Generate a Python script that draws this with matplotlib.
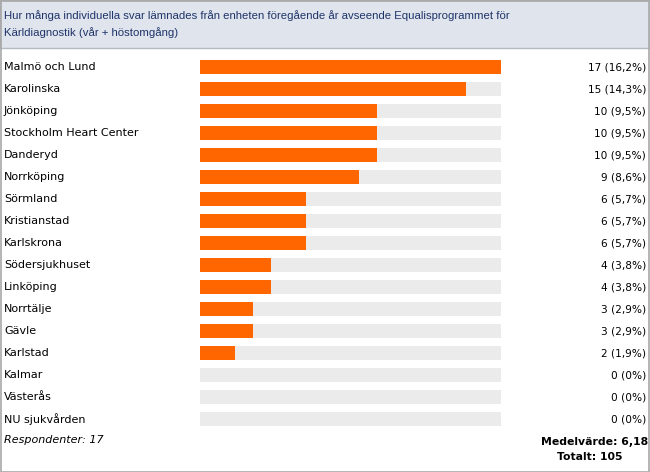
import matplotlib
matplotlib.use("Agg")
import matplotlib.pyplot as plt
from matplotlib.patches import Rectangle
from matplotlib.transforms import blended_transform_factory

title = ("Hur många individuella svar lämnades från enheten föregående år avseende Equalisprogrammet för\n"
         "Kärldiagnostik (vår + höstomgång)")
units = ["Malmö och Lund", "Karolinska", "Jönköping", "Stockholm Heart Center", "Danderyd",
         "Norrköping", "Sörmland", "Kristianstad", "Karlskrona", "Södersjukhuset", "Linköping",
         "Norrtälje", "Gävle", "Karlstad", "Kalmar", "Västerås", "NU sjukvården"]
counts = [17, 15, 10, 10, 10, 9, 6, 6, 6, 4, 4, 3, 3, 2, 0, 0, 0]
shares = ["16,2%", "14,3%", "9,5%", "9,5%", "9,5%", "8,6%", "5,7%", "5,7%", "5,7%",
          "3,8%", "3,8%", "2,9%", "2,9%", "1,9%", "0%", "0%", "0%"]
respondents = 17
mean_value = "6,18"
total = 105

W, H = 650, 472
fig = plt.figure(figsize=(W / 100, H / 100), dpi=100)
fig.patch.set_facecolor("white")

# header band and outer frame
fig.add_artist(Rectangle((0, 1 - 48 / H), 1, 48 / H, transform=fig.transFigure,
                         facecolor="#dfe4ed", edgecolor="#b4b9c2", lw=1))
fig.add_artist(Rectangle((0.5 / W, 0.5 / H), 1 - 1.5 / W, 1 - 1.5 / H, transform=fig.transFigure,
                         facecolor="none", edgecolor="#a8a8a8", lw=1.2))
fig.text(4 / W, 1 - 24 / H, title, color="#1f3468", fontsize=8.2,
         family="Liberation Sans", va="center", ha="left", linespacing=1.75)

top, bottom = 56, 430
ax = fig.add_axes([200 / W, 1 - bottom / H, 301 / W, (bottom - top) / H])
ax.set_xlim(0, max(counts))
ax.set_ylim(len(units) - 0.5, -0.5)
ax.axis("off")

ypos = range(len(units))
ax.barh(ypos, [max(counts)] * len(units), height=0.68, color="#ebebeb")
ax.barh(ypos, counts, height=0.68, color="#ff6600")

trans = blended_transform_factory(fig.transFigure, ax.transData)
for i, (name, c, s) in enumerate(zip(units, counts, shares)):
    ax.text(4 / W, i, name, transform=trans, fontsize=8, va="center", ha="left")
    ax.text(646 / W, i, f"{c} ({s})", transform=trans, fontsize=7.6, va="center", ha="right")

fig.text(4 / W, 1 - 440 / H, f"Respondenter: {respondents}", fontsize=8, style="italic",
         va="center", ha="left")
fig.text(648 / W, 1 - 442 / H, f"Medelvärde: {mean_value}", fontsize=7.8, fontweight="bold",
         va="center", ha="right")
fig.text(590 / W, 1 - 457 / H, f"Totalt: {total}", fontsize=7.8, fontweight="bold",
         va="center", ha="center")

fig.savefig("out.png", dpi=100)
